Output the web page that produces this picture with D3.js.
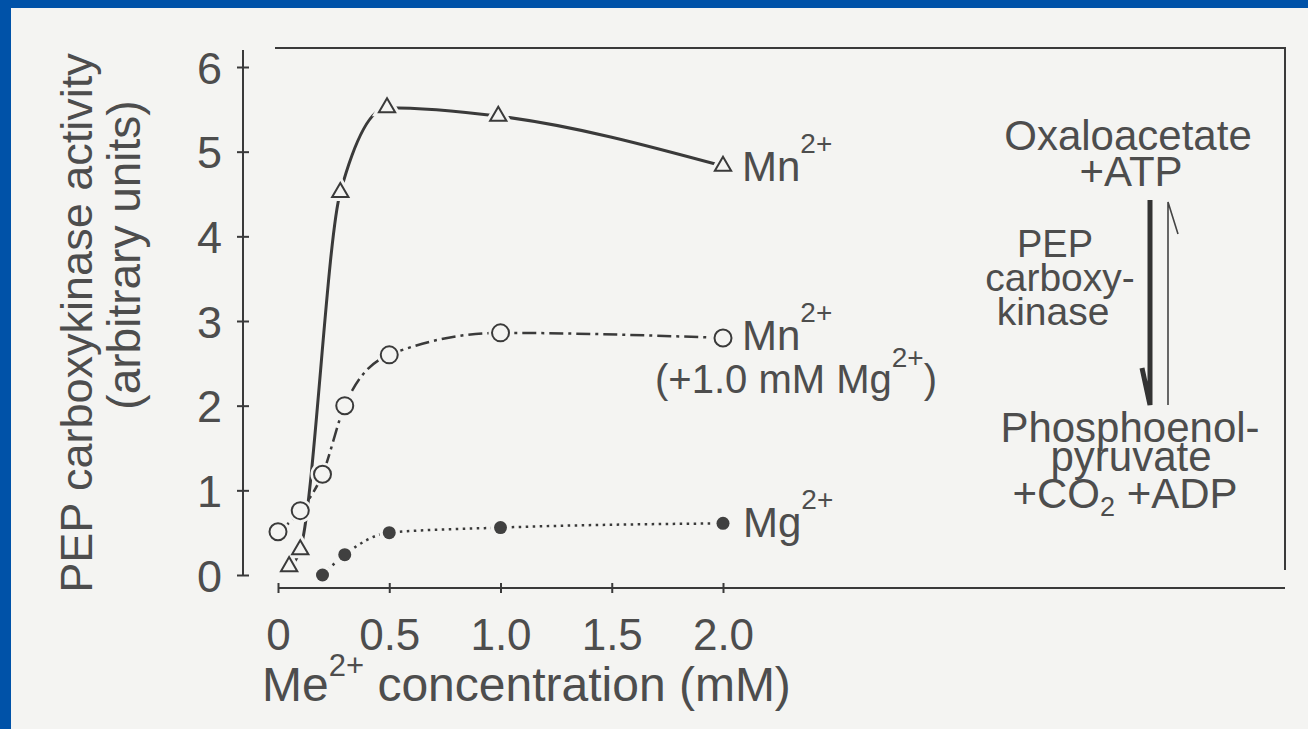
<!doctype html>
<html>
  <head>
    <script src="https://cdn.jsdelivr.net/npm/d3@7/dist/d3.min.js"></script>
    <style>
      body { margin: 0; background: #0052a8; }
      text { font-family: "Liberation Sans", Arial, sans-serif; fill: #4d4d4d; }
    </style>
  </head>
  <body>
    <script>
      // data
      var mnX = [0.05, 0.1, 0.28, 0.49, 0.99, 2.0];
      var mnY = [0.1, 0.3, 4.52, 5.52, 5.42, 4.83];
      var mnmgX = [0, 0.1, 0.2, 0.3, 0.5, 1.0, 2.0];
      var mnmgY = [0.51, 0.76, 1.19, 2.0, 2.6, 2.86, 2.8];
      var mgX = [0.2, 0.3, 0.5, 1.0, 2.0];
      var mgY = [0.0, 0.24, 0.5, 0.56, 0.61];
      var xTicks = [0, 0.5, 1.0, 1.5, 2.0];
      var xTickLabels = ["0", "0.5", "1.0", "1.5", "2.0"];
      var yTicks = [0, 1, 2, 3, 4, 5, 6];

      var W = 1308, H = 729;
      var paper = "#f4f4f2", ink = "#3a3a3a";

      var svg = d3.select("body").append("svg")
                  .attr("width", W).attr("height", H)
                  .style("display", "block");

      // paper + blue slide border
      svg.append("rect").attr("width", W).attr("height", H).attr("fill", "#0052a8");
      svg.append("rect").attr("x", 11).attr("y", 8).attr("width", W - 11).attr("height", H - 8).attr("fill", paper);

      var x = d3.scaleLinear().domain([0, 2]).range([278, 723]);
      var y = d3.scaleLinear().domain([0, 6]).range([575, 67]);

      var xAxisY = 588, yAxisX = 243;

      // frame (top + right)
      svg.append("path")
         .attr("d", "M275,48H1285V570")
         .attr("fill", "none").attr("stroke", ink).attr("stroke-width", 2);

      // y axis
      var gy = svg.append("g").attr("transform", "translate(" + yAxisX + ",0)")
                  .call(d3.axisLeft(y).tickValues(yTicks).tickSize(0).tickPadding(21)
                          .tickFormat(d3.format("d")));
      gy.select(".domain").remove();
      gy.append("line").attr("y1", 50).attr("y2", y(0)).attr("stroke", ink).attr("stroke-width", 2);
      gy.selectAll(".tick").append("line").attr("x1", -6).attr("x2", 6).attr("stroke", ink).attr("stroke-width", 2);
      gy.selectAll(".tick text").style("font-size", "45px").attr("fill", "#4d4d4d")
        .attr("font-family", null).attr("dy", "0.36em");

      // x axis
      var gx = svg.append("g").attr("transform", "translate(0," + xAxisY + ")")
                  .call(d3.axisBottom(x).tickValues(xTicks).tickSize(0)
                          .tickFormat(function(d, i) { return xTickLabels[i]; }));
      gx.select(".domain").remove();
      gx.append("line").attr("x1", x(0)).attr("x2", 1285).attr("stroke", ink).attr("stroke-width", 2);
      gx.selectAll(".tick").append("line").attr("y1", -5).attr("y2", 5).attr("stroke", ink).attr("stroke-width", 2);
      gx.selectAll(".tick text").style("font-size", "44px").attr("fill", "#4d4d4d")
        .attr("font-family", null).attr("y", 62).attr("dy", 0);

      // axis titles
      var xt = svg.append("text").attr("x", 262).attr("y", 701).style("font-size", "48px");
      xt.append("tspan").text("Me");
      xt.append("tspan").attr("dy", -25).style("font-size", "31px").text("2+");
      xt.append("tspan").attr("dy", 25).text(" concentration (mM)");

      svg.append("text").attr("transform", "translate(92,323) rotate(-90)")
         .attr("text-anchor", "middle").style("font-size", "45px")
         .text("PEP carboxykinase activity");
      svg.append("text").attr("transform", "translate(140,255) rotate(-90)")
         .attr("text-anchor", "middle").style("font-size", "46px")
         .text("(arbitrary units)");

      function pts(xs, ys) { return xs.map(function(d, i) { return [d, ys[i]]; }); }
      var line = d3.line().x(function(d) { return x(d[0]); }).y(function(d) { return y(d[1]); })
                   .curve(d3.curveMonotoneX);

      var mn = pts(mnX, mnY), mnmg = pts(mnmgX, mnmgY), mg = pts(mgX, mgY);

      svg.append("path").attr("d", line(mg)).attr("fill", "none").attr("stroke", ink)
         .attr("stroke-width", 2.5).attr("stroke-dasharray", "2.5,4.5");
      svg.append("path").attr("d", line(mnmg)).attr("fill", "none").attr("stroke", ink)
         .attr("stroke-width", 2.5).attr("stroke-dasharray", "14,5,3,5");
      svg.append("path").attr("d", line(mn)).attr("fill", "none").attr("stroke", ink)
         .attr("stroke-width", 3);

      var tri = d3.symbol().type(d3.symbolTriangle).size(115);

      // markers, with a paper halo so lines stop short of them
      function markers(data, draw) {
        var g = svg.append("g");
        draw(g.selectAll(".halo").data(data).enter(), true);
        draw(g.selectAll(".mark").data(data).enter(), false);
      }
      markers(mn, function(sel, halo) {
        sel.append("path").attr("d", tri)
           .attr("transform", function(d) { return "translate(" + x(d[0]) + "," + y(d[1]) + ")"; })
           .attr("fill", paper).attr("stroke", halo ? paper : ink).attr("stroke-width", halo ? 8 : 2);
      });
      markers(mnmg, function(sel, halo) {
        sel.append("circle").attr("cx", function(d) { return x(d[0]); }).attr("cy", function(d) { return y(d[1]); })
           .attr("r", 8.5).attr("fill", paper).attr("stroke", halo ? paper : ink).attr("stroke-width", halo ? 7 : 2);
      });
      markers(mg, function(sel, halo) {
        sel.append("circle").attr("cx", function(d) { return x(d[0]); }).attr("cy", function(d) { return y(d[1]); })
           .attr("r", halo ? 7 : 6.5).attr("fill", halo ? paper : "#404040")
           .attr("stroke", halo ? paper : "none").attr("stroke-width", halo ? 6 : 0);
      });

      // series labels
      function ionLabel(px, py, base) {
        var t = svg.append("text").attr("x", px).attr("y", py).style("font-size", "42px");
        t.append("tspan").text(base);
        t.append("tspan").attr("dy", -28).style("font-size", "28px").text("2+");
        return t;
      }
      ionLabel(742, 181, "Mn");
      ionLabel(742, 350, "Mn");
      var mgl = svg.append("text").attr("x", 655).attr("y", 393).style("font-size", "40px");
      mgl.append("tspan").text("(+1.0 mM Mg");
      mgl.append("tspan").attr("dy", -26).style("font-size", "28px").text("2+");
      mgl.append("tspan").attr("dy", 26).text(")");
      ionLabel(743, 537, "Mg");

      // reaction scheme
      function centered(txt, px, py, size) {
        return svg.append("text").attr("x", px).attr("y", py).attr("text-anchor", "middle")
                  .style("font-size", size + "px").text(txt);
      }
      centered("Oxaloacetate", 1128, 150, 42);
      centered("+ATP", 1131, 186, 42);
      centered("PEP", 1055, 257, 38);
      centered("carboxy-", 1060, 291, 39);
      centered("kinase", 1053, 325, 39);
      centered("Phosphoenol-", 1130, 442, 42);
      centered("pyruvate", 1131, 471, 42);
      var co = svg.append("text").attr("x", 1125).attr("y", 508).attr("text-anchor", "middle").style("font-size", "42px");
      co.append("tspan").text("+CO");
      co.append("tspan").attr("dy", 8).style("font-size", "27px").text("2");
      co.append("tspan").attr("dy", -8).text(" +ADP");

      // forward (thick) and reverse (thin) half-arrows
      svg.append("path").attr("d", "M1150,200V405L1142,368")
         .attr("fill", "none").attr("stroke", "#333").attr("stroke-width", 5).attr("stroke-linejoin", "miter");
      svg.append("path").attr("d", "M1168,405V202L1178,234")
         .attr("fill", "none").attr("stroke", "#444").attr("stroke-width", 1.6);
    </script>
  </body>
</html>
